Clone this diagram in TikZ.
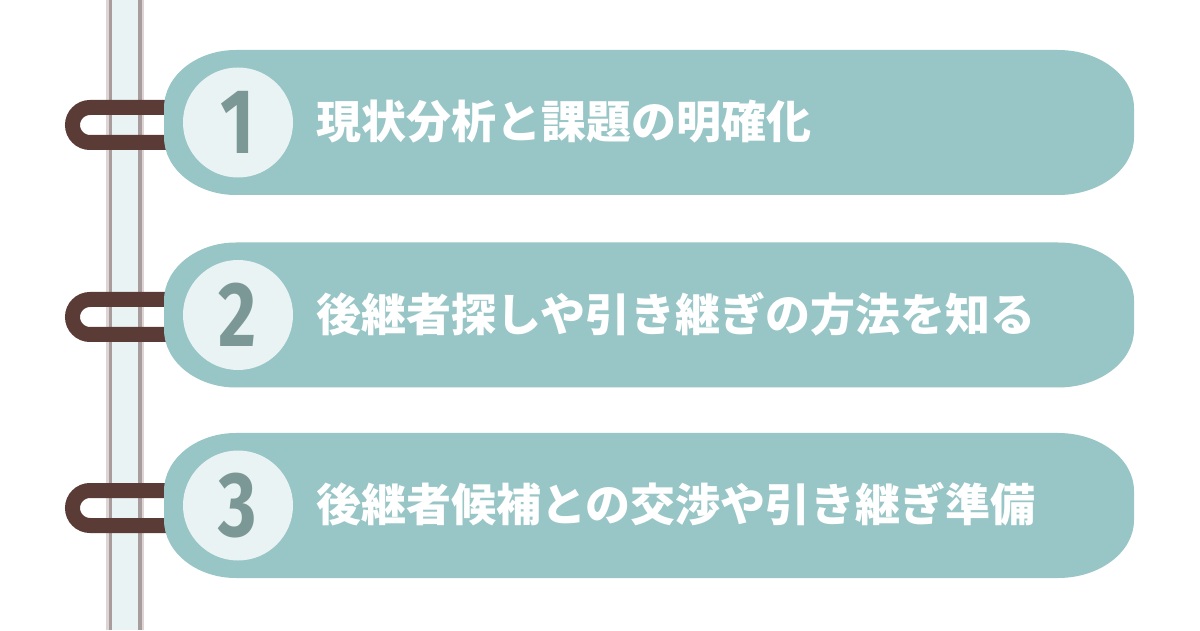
\documentclass[tikz,border=0pt]{standalone}
\usepackage{fontspec}
\newfontfamily\cjk{Noto Sans CJK JP}
\newfontfamily\numfont{Fira Sans}
\definecolor{pillc}{HTML}{98C5C6}
\definecolor{rodc}{HTML}{EAF3F3}
\definecolor{rodedge}{HTML}{A99C9C}
\definecolor{rodshade}{HTML}{DDD5D5}
\definecolor{ringc}{HTML}{5B3B36}
\definecolor{circc}{HTML}{EAF3F3}
\definecolor{numc}{HTML}{7B9897}
\tikzset{
  x=1pt, y=1pt,
  ringline/.style={draw=ringc, line width=15pt},
  pillshape/.style={fill=pillc},
  numcircle/.style={circle, fill=circc, minimum size=110pt, inner sep=0pt,
    font=\numfont\bfseries\fontsize{92}{92}\selectfont, text=numc},
  steptext/.style={anchor=west, inner sep=0pt, text=white,
    font=\cjk\bfseries\fontsize{45}{45}\selectfont},
}
\newcommand{\pillpath}[1]{%
  \fill[pillshape] (236,#1+72.5) -- (1058,#1+72.5)
    arc[start angle=90,end angle=0,x radius=76,y radius=58]
    -- (1134,#1-14.5)
    arc[start angle=0,end angle=-90,x radius=76,y radius=58]
    -- (236,#1-72.5)
    arc[start angle=270,end angle=180,x radius=72,y radius=58]
    -- (164,#1+14.5)
    arc[start angle=180,end angle=90,x radius=72,y radius=58]
    -- cycle;}
\newcommand{\ringpath}[1]{%
  \draw[ringline] (175,#1+17.5) -- (90,#1+17.5)
    arc[start angle=90,end angle=270,radius=17.5] -- (175,#1-17.5);}
\begin{document}
\begin{tikzpicture}
\useasboundingbox (0,0) rectangle (1200,630);
\fill[white] (0,0) rectangle (1200,630);
% rod
\fill[rodshade] (106,0) rectangle (144,630);
\fill[rodedge] (108.5,0) rectangle (141.5,630);
\fill[rodc] (112,0) rectangle (138,630);
% rings
\ringpath{505}
\ringpath{313}
\ringpath{122}
% pills
\pillpath{507.5}
\pillpath{315}
\pillpath{124.5}
% circles and numbers
\node[numcircle] (n1) at (238,507.5) {\scalebox{0.8}[1]{1}};
\node[numcircle] (n2) at (238,315) {\scalebox{0.8}[1]{2}};
\node[numcircle] (n3) at (238,124.5) {\scalebox{0.8}[1]{3}};
% texts
\node[steptext] (t1) at (316,508.5) {現状分析と課題の明確化};
\node[steptext] (t2) at (316,316) {後継者探しや引き継ぎの方法を知る};
\node[steptext] (t3) at (316,125.5) {後継者候補との交渉や引き継ぎ準備};
\end{tikzpicture}
\end{document}
